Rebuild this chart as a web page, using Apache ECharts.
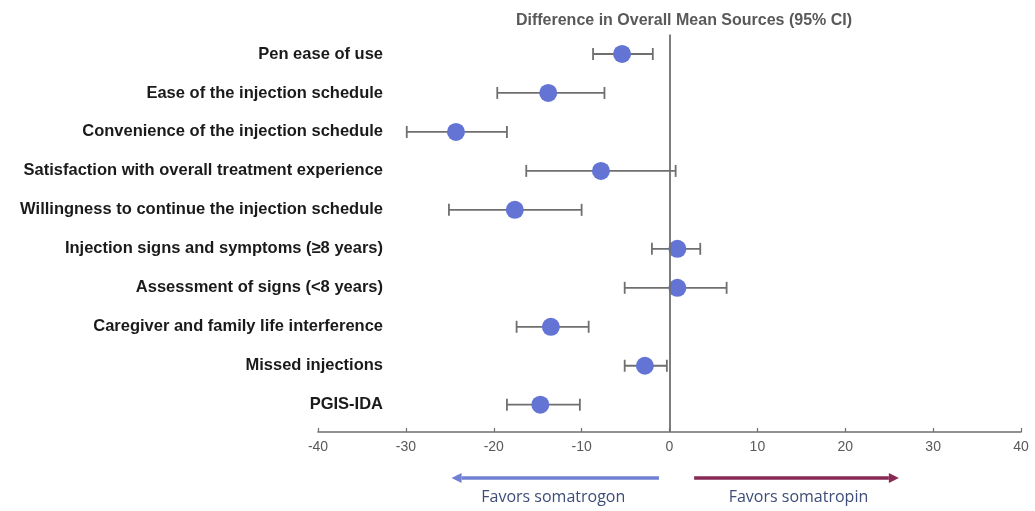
<!DOCTYPE html>
<html>
<head>
<meta charset="utf-8">
<script src="https://cdn.jsdelivr.net/npm/echarts@6/dist/echarts.min.js"></script>
<style>
  html, body { margin: 0; padding: 0; background: #fff; }
  #chart { width: 1035px; height: 511px; }
</style>
</head>
<body>
<div id="chart"></div>
<script>
// outcome measures, top to bottom
const measures = [
  "Pen ease of use",
  "Ease of the injection schedule",
  "Convenience of the injection schedule",
  "Satisfaction with overall treatment experience",
  "Willingness to continue the injection schedule",
  "Injection signs and symptoms (\u22658 years)",
  "Assessment of signs (<8 years)",
  "Caregiver and family life interference",
  "Missed injections",
  "PGIS-IDA"
];
const meanDiff = [-5.4, -13.8, -24.3, -7.8, -17.6, 0.9, 0.9, -13.5, -2.8, -14.7];
const ciLower = [-8.7, -19.6, -29.9, -16.3, -25.1, -2.0, -5.1, -17.4, -5.1, -18.5];
const ciUpper = [-1.9, -7.4, -18.5, 0.7, -10.0, 3.5, 6.5, -9.2, -0.3, -10.2];
const xTicks = [-40, -30, -20, -10, 0, 10, 20, 30, 40];
const rowIndex = measures.map((m, i) => i);

// direction arrows below the axis (x units)
const favorsLeft = { text: "Favors somatrogon", from: -1.2, to: -24.8 };
const favorsRight = { text: "Favors somatropin", from: 2.8, to: 26.1 };

const chart = echarts.init(document.getElementById("chart"));

const gray = "#6f6f6f";

chart.setOption({
  animation: false,
  title: {
    text: "Difference in Overall Mean Sources (95% CI)",
    left: 679,
    top: 8,
    textAlign: "center",
    textStyle: {
      fontFamily: "Liberation Sans",
      fontSize: 16,
      fontWeight: "bold",
      color: "#595959"
    }
  },
  grid: { left: 318, right: 14, top: 34.5, bottom: 79 },
  xAxis: {
    type: "value",
    min: xTicks[0],
    max: xTicks[xTicks.length - 1],
    interval: 10,
    axisLine: { show: true, onZero: false, lineStyle: { color: gray, width: 1.6 } },
    axisTick: { show: true, inside: true, length: 4, lineStyle: { color: gray, width: 1.2 } },
    splitLine: { show: false },
    axisLabel: {
      margin: 8,
      color: "#595959",
      fontFamily: "Liberation Sans",
      fontSize: 14
    }
  },
  yAxis: {
    type: "value",
    inverse: true,
    min: -0.5,
    max: 9.7,
    axisLine: { show: false },
    axisTick: { show: false },
    splitLine: { show: false },
    axisLabel: {
      customValues: rowIndex,
      margin: -65,
      formatter: v => measures[Math.round(v)] || "",
      color: "#1a1a1a",
      fontFamily: "Liberation Sans",
      fontSize: 16.5,
      fontWeight: "bold"
    }
  },
  series: [
    {
      type: "custom",
      z: 2,
      data: rowIndex.map(i => [i, ciLower[i], ciUpper[i]]),
      encode: { x: [1, 2], y: 0 },
      renderItem: (params, api) => {
        const y = api.value(0);
        const a = api.coord([api.value(1), y]);
        const b = api.coord([api.value(2), y]);
        const cap = 6;
        const style = { stroke: gray, lineWidth: 1.8 };
        return {
          type: "group",
          children: [
            { type: "line", shape: { x1: a[0], y1: a[1], x2: b[0], y2: b[1] }, style },
            { type: "line", shape: { x1: a[0], y1: a[1] - cap, x2: a[0], y2: a[1] + cap }, style },
            { type: "line", shape: { x1: b[0], y1: b[1] - cap, x2: b[0], y2: b[1] + cap }, style }
          ]
        };
      },
      markLine: {
        silent: true,
        symbol: "none",
        label: { show: false },
        lineStyle: { color: gray, width: 1.8, type: "solid" },
        data: [{ xAxis: 0 }]
      }
    },
    {
      type: "scatter",
      z: 3,
      symbolSize: 18,
      itemStyle: { color: "#6374d4", opacity: 1 },
      data: rowIndex.map(i => [meanDiff[i], i])
    }
  ]
});

// arrows + captions under the x axis
function arrow(spec, color) {
  const x1 = chart.convertToPixel({ xAxisIndex: 0 }, spec.from);
  const x2 = chart.convertToPixel({ xAxisIndex: 0 }, spec.to);
  const y = 478;
  const dir = x2 > x1 ? 1 : -1;
  const head = 10;
  return [
    {
      type: "line",
      shape: { x1: x1, y1: y, x2: x2 - dir * head, y2: y },
      style: { stroke: color, lineWidth: 3.5 }
    },
    {
      type: "polygon",
      shape: { points: [[x2, y], [x2 - dir * head, y - 5], [x2 - dir * head, y + 5]] },
      style: { fill: color }
    },
    {
      type: "text",
      x: (x1 + x2) / 2 + dir * 2,
      y: 497,
      style: {
        text: spec.text,
        align: "center",
        verticalAlign: "middle",
        fill: "#3d4d78",
        font: "16px 'Open Sans'"
      }
    }
  ];
}

chart.setOption({
  graphic: arrow(favorsLeft, "#7080d2").concat(arrow(favorsRight, "#882a55"))
});
</script>
</body>
</html>
